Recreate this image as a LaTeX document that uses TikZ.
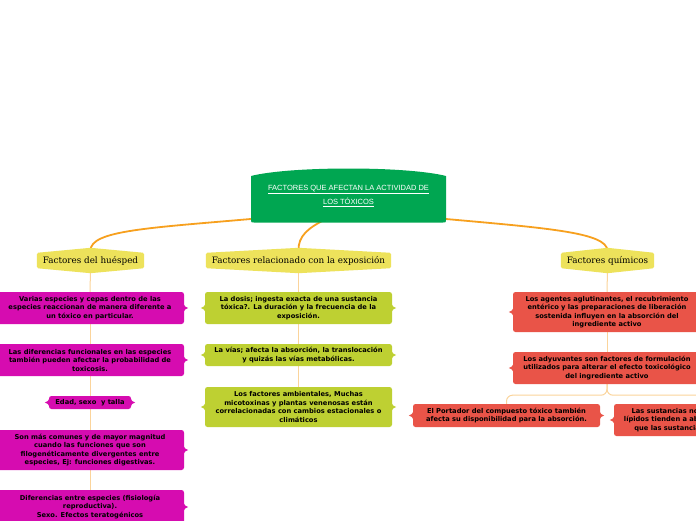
\documentclass[tikz,border=0pt]{standalone}
\usepackage{fontspec}
\usetikzlibrary{calc}
\newfontfamily\boxfont{DejaVu Sans}
\newfontfamily\catfont{DejaVu Serif}
\newfontfamily\titlefont{Liberation Sans}
\definecolor{mgreen}{RGB}{0,166,81}
\definecolor{cyell}{RGB}{237,226,91}
\definecolor{magb}{RGB}{214,12,176}
\definecolor{limeb}{RGB}{190,208,50}
\definecolor{redb}{RGB}{233,84,72}
\definecolor{orline}{RGB}{247,160,30}
\definecolor{lightline}{RGB}{251,212,155}
\pgfdeclarelayer{back}\pgfdeclarelayer{bg}\pgfdeclarelayer{mid}
\pgfsetlayers{back,bg,mid,main}
\tikzset{
  box/.style={rounded corners=2.5pt, text=black, font=\boxfont\bfseries\fontsize{6.7}{8.5}\selectfont, align=center, inner sep=0pt, minimum width=188pt},
  catnode/.style={text=black, font=\catfont\fontsize{8.8}{10}\selectfont, inner sep=0pt, minimum height=19pt},
  orl/.style={draw=orline, line width=1.8pt},
  lline/.style={draw=lightline, line width=1pt},
}
\newcommand\notchE[2]{\fill[#2] ([yshift=5pt,xshift=-1pt]#1.east) .. controls ([xshift=1pt,yshift=1pt]#1.east) .. ([xshift=4pt]#1.east) .. controls ([xshift=1pt,yshift=-1pt]#1.east) .. ([yshift=-5pt,xshift=-1pt]#1.east) -- cycle;}
\newcommand\notchW[2]{\fill[#2] ([yshift=5pt,xshift=1pt]#1.west) .. controls ([xshift=-1pt,yshift=1pt]#1.west) .. ([xshift=-4pt]#1.west) .. controls ([xshift=-1pt,yshift=-1pt]#1.west) .. ([yshift=-5pt,xshift=1pt]#1.west) -- cycle;}
\newcommand\catshape[1]{\fill[cyell, rounded corners=1.5pt] ([yshift=-2pt]#1.north west) -- ([yshift=3pt]#1.north) -- ([yshift=-2pt]#1.north east) -- ([yshift=2pt]#1.south east) -- ([yshift=-3pt]#1.south) -- ([yshift=2pt]#1.south west) -- cycle;}
\begin{document}
\begin{tikzpicture}[x=1pt,y=-1pt]
\useasboundingbox (0,0) rectangle (696,520);
\begin{pgfonlayer}{back}
\fill[white] (0,0) rectangle (696,520);
\end{pgfonlayer}

% main node
\node[text=white, font=\titlefont\fontsize{7.5}{13.5}\selectfont, align=center, minimum width=195pt, minimum height=52pt, inner sep=0pt] (main) at (348.5,196) {\underline{FACTORES QUE AFECTAN LA ACTIVIDAD DE}\\\underline{LOS TÓXICOS}};
\begin{pgfonlayer}{mid}
\fill[mgreen] (251,176) .. controls (290,166) and (407,166) .. (446,176) -- (446,220) .. controls (446,222.5) .. (443,222.5) -- (254,222.5) .. controls (251,222.5) .. (251,220) -- cycle;
\end{pgfonlayer}

% categories
\node[catnode, minimum width=107pt] (hl) at (90.5,260.5) {Factores del huésped};
\node[catnode, minimum width=185pt] (hm) at (298.5,260.5) {Factores relacionado con la exposición};
\node[catnode, minimum width=93pt] (hr) at (607.5,260.5) {Factores químicos};
\begin{pgfonlayer}{mid}
\catshape{hl}\catshape{hm}\catshape{hr}
\end{pgfonlayer}

% left column
\node[box, fill=magb, minimum height=32pt] (l1) at (90,308) {Varias especies y cepas dentro de las\\especies reaccionan de manera diferente a\\un tóxico en particular.};
\node[box, fill=magb, minimum height=32pt] (l2) at (90,360) {Las diferencias funcionales en las especies\\también pueden afectar la probabilidad de\\toxicosis.};
\node[box, fill=magb, minimum height=13pt, minimum width=82pt] (l3) at (90,402.5) {Edad, sexo~ y talla};
\node[box, fill=magb, minimum height=40pt] (l4) at (90,450) {Son más comunes y de mayor magnitud\\cuando las funciones que son\\filogenéticamente divergentes entre\\especies, Ej: funciones digestivas.};
\node[box, fill=magb, minimum height=34pt] (l5) at (90,507) {Diferencias entre especies (fisiología\\reproductiva).\\Sexo. Efectos teratogénicos};
\notchE{l1}{magb}\notchE{l2}{magb}\notchE{l3}{magb}\notchW{l3}{magb}\notchE{l4}{magb}\notchE{l5}{magb}

% middle column
\node[box, fill=limeb, minimum height=32pt, minimum width=187pt] (m1) at (298.5,308) {La dosis; ingesta exacta de una sustancia\\tóxica?. La duración y la frecuencia de la\\exposición.};
\node[box, fill=limeb, minimum height=22pt, minimum width=187pt] (m2) at (298.5,355) {La vías; afecta la absorción, la translocación\\y quizás las vías metabólicas.};
\node[box, fill=limeb, minimum height=40pt, minimum width=187pt] (m3) at (298.5,407) {Los factores ambientales, Muchas\\micotoxinas y plantas venenosas están\\correlacionadas con cambios estacionales o\\climáticos};
\notchE{m1}{limeb}\notchW{m1}{limeb}\notchE{m2}{limeb}\notchW{m2}{limeb}\notchE{m3}{limeb}\notchW{m3}{limeb}

% right column
\node[box, fill=redb, minimum height=40pt] (r1) at (607,312) {Los agentes aglutinantes, el recubrimiento\\entérico y las preparaciones de liberación\\sostenida influyen en la absorción del\\ingrediente activo};
\node[box, fill=redb, minimum height=32pt] (r2) at (607,368) {Los adyuvantes son factores de formulación\\utilizados para alterar el efecto toxicológico\\del ingrediente activo};
\node[box, fill=redb, minimum height=23pt, minimum width=187pt] (r3) at (506.5,415.5) {El Portador del compuesto tóxico también\\afecta su disponibilidad para la absorción.};
\node[box, fill=redb, minimum height=32pt] (r4) at (708,420) {Las sustancias no ionizadas, solubles en\\lípidos tienden a absorberse más fácilmente\\que las sustancias ionizadas y polares.};
\notchW{r1}{redb}\notchW{r2}{redb}\notchW{r3}{redb}\notchE{r3}{redb}\notchW{r4}{redb}

% connectors
\begin{pgfonlayer}{bg}
\draw[orl] (262,218) .. controls (150,228) and (90,230) .. (hl.north);
\draw[orl] (326,219) .. controls (308,228) and (298,236) .. (hm.north);
\draw[orl] (435,218) .. controls (545,228) and (607,232) .. (hr.north);
\draw[lline] (hl.south) -- (l1.north);
\draw[lline] (l1.south) -- (l2.north);
\draw[lline] (l2.south) -- (l3.north);
\draw[lline] (l3.south) -- (l4.north);
\draw[lline] (l4.south) -- (l5.north);
\draw[lline] (hm.south) -- (m1.north);
\draw[lline] (m1.south) -- (m2.north);
\draw[lline] (m2.south) -- (m3.north);
\draw[lline] (hr.south) -- (r1.north);
\draw[lline] (r1.south) -- (r2.north);
\draw[lline, rounded corners=6pt] (r2.south) -- ++(0,11) -| (r3.north);
\draw[lline, rounded corners=6pt] (r2.south) -- ++(0,11) -| (r4.north);
\end{pgfonlayer}
\end{tikzpicture}
\end{document}
